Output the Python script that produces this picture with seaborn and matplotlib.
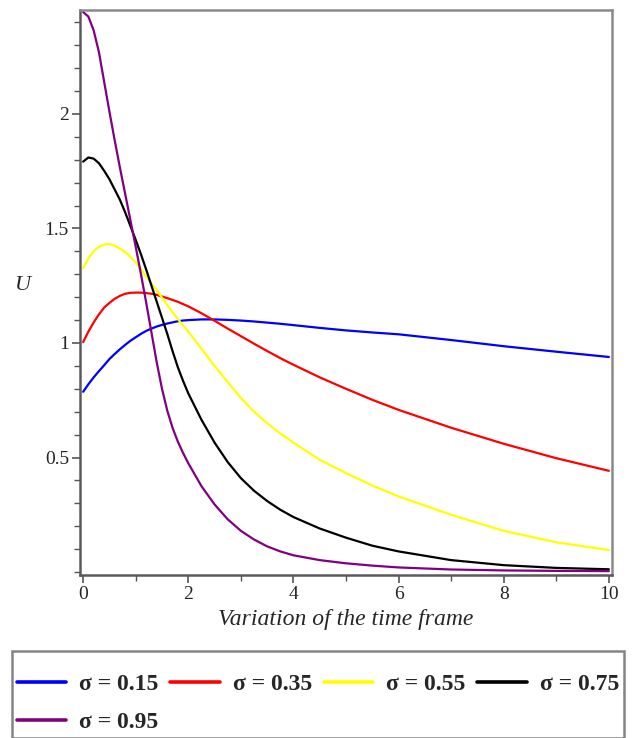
import numpy as np
import pandas as pd
import seaborn as sns
import matplotlib
matplotlib.use('Agg')
import matplotlib.pyplot as plt
from matplotlib.ticker import MultipleLocator

# значения
t = [0, 0.1, 0.2, 0.3, 0.4, 0.5, 0.6, 0.7, 0.8, 0.9, 1.0, 1.1, 1.2, 1.3, 1.4,
     1.5, 1.6, 1.7, 1.8, 1.9, 2.0, 2.25, 2.5, 2.75, 3.0, 3.25, 3.5, 3.75, 4.0,
     4.5, 5, 5.5, 6, 7, 8, 9, 10]

u_015 = [0.787, 0.82, 0.85, 0.877, 0.903, 0.93, 0.952, 0.973, 0.992, 1.01, 1.025,
         1.04, 1.053, 1.063, 1.072, 1.079, 1.085, 1.09, 1.095, 1.098, 1.10,
         1.103, 1.103, 1.101, 1.098, 1.094, 1.089, 1.084, 1.078,
         1.066, 1.055, 1.046, 1.038, 1.013, 0.986, 0.962, 0.939]
u_035 = [1.004, 1.05, 1.09, 1.125, 1.155, 1.175, 1.193, 1.206, 1.215, 1.219, 1.22,
         1.22, 1.218, 1.215, 1.21, 1.203, 1.196, 1.188, 1.18, 1.17, 1.16,
         1.13, 1.097, 1.063, 1.03, 0.997, 0.965, 0.934, 0.905,
         0.85, 0.80, 0.752, 0.708, 0.63, 0.56, 0.497, 0.442]
u_055 = [1.327, 1.37, 1.40, 1.42, 1.43, 1.432, 1.425, 1.412, 1.398, 1.375, 1.352,
         1.322, 1.29, 1.26, 1.23, 1.198, 1.165, 1.135, 1.105, 1.077, 1.05,
         0.975, 0.90, 0.83, 0.76, 0.70, 0.65, 0.605, 0.565,
         0.49, 0.432, 0.378, 0.33, 0.25, 0.18, 0.13, 0.096]
u_075 = [1.792, 1.81, 1.805, 1.785, 1.752, 1.715, 1.67, 1.625, 1.57, 1.51, 1.45,
         1.387, 1.32, 1.25, 1.18, 1.11, 1.04, 0.965, 0.895, 0.835, 0.78,
         0.665, 0.565, 0.48, 0.41, 0.355, 0.31, 0.272, 0.24,
         0.19, 0.15, 0.115, 0.09, 0.052, 0.03, 0.018, 0.012]
u_095 = [2.445, 2.425, 2.365, 2.27, 2.14, 2.01, 1.885, 1.765, 1.65, 1.535, 1.42,
         1.30, 1.175, 1.045, 0.915, 0.80, 0.705, 0.63, 0.57, 0.52, 0.475,
         0.375, 0.295, 0.23, 0.18, 0.142, 0.112, 0.09, 0.073,
         0.052, 0.038, 0.028, 0.02, 0.011, 0.007, 0.005, 0.004]

labels = ['σ = 0.15', 'σ = 0.35', 'σ = 0.55', 'σ = 0.75', 'σ = 0.95']
colors = ['#0000ff', '#ff0000', '#ffff00', '#000000', '#800080']

series = [u_015, u_035, u_055, u_075, u_095]
df = pd.concat([pd.DataFrame({'t': t, 'U': s, 'sigma': lab})
                for s, lab in zip(series, labels)], ignore_index=True)

sns.set_style('white')
plt.rcParams['font.family'] = ['Liberation Serif', 'DejaVu Serif']

fig = plt.figure(figsize=(6.38, 7.38), dpi=100)
ax = fig.add_axes([80 / 638, 1 - 575 / 738, 532 / 638, 565 / 738])

sns.lineplot(data=df, x='t', y='U', hue='sigma', palette=colors,
             linewidth=1.6, ax=ax, legend=True)

ax.set_xlim(-0.06, 10.06)
ax.set_ylim(-0.013, 2.454)
ax.xaxis.set_major_locator(MultipleLocator(2))
ax.xaxis.set_minor_locator(MultipleLocator(1))
ax.set_yticks([0.5, 1, 1.5, 2])
ax.set_yticklabels(['0.5', '1', '1.5', '2'])
ax.yaxis.set_minor_locator(MultipleLocator(0.1))
ax.tick_params(which='major', length=6, width=1.2, color='#555555',
               labelsize=14, pad=2, direction='out', left=True, bottom=True)
ax.tick_params(which='minor', length=4, width=1.0, color='#555555',
               direction='out', left=True, bottom=True)

for side, sp in ax.spines.items():
    sp.set_visible(True)
    sp.set_linewidth(1.8)
    sp.set_color('#5a5a5a' if side in ('left', 'bottom') else '#8a8a8a')

ax.set_xlabel('Variation of the time frame', fontsize=17, style='italic',
              labelpad=4)
ax.set_ylabel('U', fontsize=16, style='italic', rotation=0, labelpad=0)
ax.yaxis.set_label_coords(-0.108, 0.495)

# легенда по строкам, как в оригинале: 4 в первой строке, 1 во второй
handles, labs = ax.get_legend_handles_labels()
ax.get_legend().remove()
order = [0, 4, 1, 2, 3]
leg = fig.legend([handles[i] for i in order], [labs[i] for i in order],
                 loc='upper left', ncol=4, mode='expand',
                 bbox_to_anchor=(12 / 638, 0, 612 / 638, 1 - 651 / 738),
                 bbox_transform=fig.transFigure,
                 prop={'family': 'Liberation Serif', 'weight': 'bold', 'size': 17},
                 title=' ', title_fontsize=1,  # пустой заголовок = отступ сверху
                 handlelength=2.1, handletextpad=0.55, borderpad=0.2,
                 labelspacing=0.7, fancybox=False, frameon=True,
                 borderaxespad=0)
leg.get_frame().set_edgecolor('#666666')
leg.get_frame().set_linewidth(1.8)
for ln in leg.get_lines():
    ln.set_linewidth(2.6)

fig.savefig('out.png', dpi=100)
